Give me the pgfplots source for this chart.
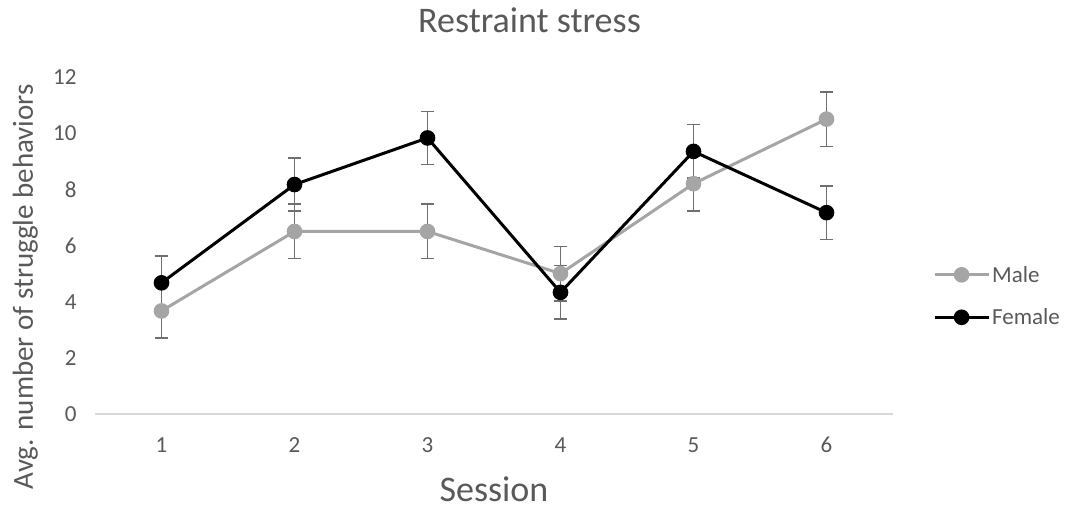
\documentclass[border=0pt]{standalone}
\usepackage{pgfplots}
\pgfplotsset{compat=1.18}
\usepackage{fontspec}
\setmainfont{Carlito}
\definecolor{male}{HTML}{A5A5A5}
\definecolor{errc}{HTML}{6F6F6F}
\definecolor{txt}{HTML}{595959}
\definecolor{axl}{HTML}{D9D9D9}
\begin{document}
\begin{tikzpicture}[x=1pt,y=1pt]
\useasboundingbox (0,0) rectangle (1067,510);
\begin{axis}[
  at={(95pt,96pt)}, anchor=south west,
  scale only axis, width=798pt, height=337pt,
  xmin=0.5, xmax=6.5, ymin=0, ymax=12,
  xtick={1,2,3,4,5,6}, ytick={0,2,4,6,8,10,12},
  axis x line=bottom, axis y line=left,
  x axis line style={-, color=axl, line width=1.2pt},
  y axis line style={draw=none},
  major tick length=0pt,
  /pgf/number format/assume math mode=true,
  tick label style={font=\fontsize{23}{26}\selectfont, text=txt},
  yticklabel style={xshift=-15pt},
  xticklabel style={anchor=base, yshift=-38.5pt},
  title={Restraint stress},
  every axis title shift=0pt,
  title style={at={(axis description cs:0.5445,1)}, anchor=base, yshift=44pt, font=\fontsize{36}{40}\selectfont, text=txt},
  ylabel={Avg. number of struggle behaviors},
  ylabel style={at={(axis description cs:-0.0777,0.378)}, anchor=base, rotate=0, font=\fontsize{29}{33}\selectfont, text=txt},
  xlabel={Session},
  xlabel style={at={(axis description cs:0.5,-0.261)}, anchor=base, font=\fontsize{36}{40}\selectfont, text=txt},
  legend style={at={(axis description cs:1.05,0.35)}, anchor=west, draw=none, fill=none, inner sep=0pt,
    font=\fontsize{23}{26}\selectfont, text=txt, row sep=21pt},
  legend cell align=left,
  legend image code/.code={\draw[mark repeat=2,mark phase=2,#1] plot coordinates {(0pt,0pt) (27pt,0pt) (54pt,0pt)};},
  error bars/y dir=both, error bars/y explicit,
  error bars/error bar style={errc, line width=1.5pt},
  error bars/error mark options={rotate=90, errc, mark size=6.5pt, line width=1.5pt},
]
\addplot[male, line width=3pt, mark=*, mark size=6.3pt, mark options={fill=male, draw=male}]
  coordinates {(1,3.67) +- (0,0.97) (2,6.5) +- (0,0.97) (3,6.5) +- (0,0.97) (4,5.0) +- (0,0.97) (5,8.2) +- (0,0.97) (6,10.5) +- (0,0.97)};
\addlegendentry{Male}
\addplot[black, line width=3pt, mark=*, mark size=6.3pt, mark options={fill=black, draw=black}]
  coordinates {(1,4.67) +- (0,0.95) (2,8.17) +- (0,0.95) (3,9.83) +- (0,0.95) (4,4.33) +- (0,0.95) (5,9.35) +- (0,0.95) (6,7.17) +- (0,0.95)};
\addlegendentry{Female}
\end{axis}
\end{tikzpicture}
\end{document}
